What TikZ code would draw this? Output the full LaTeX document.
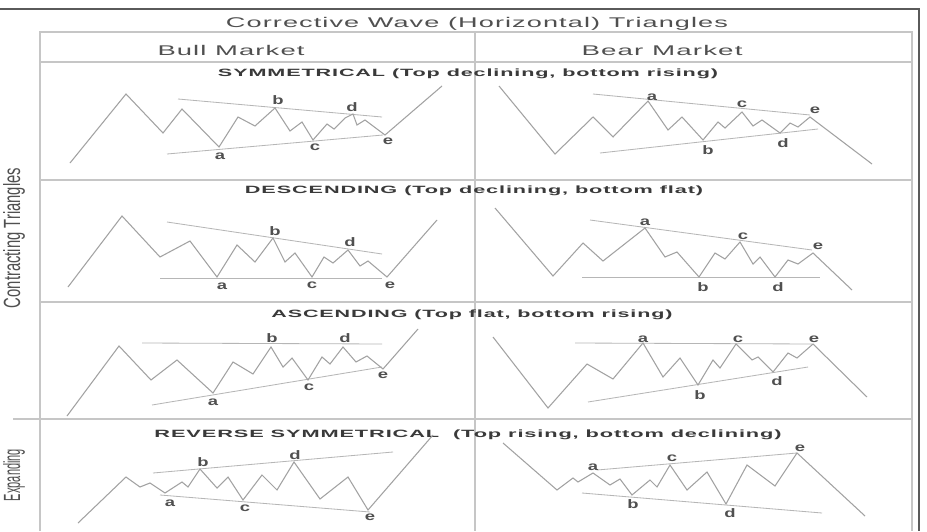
\documentclass[tikz,border=0pt]{standalone}
\usepackage{fontspec}
\setmainfont{Liberation Sans}
\newfontfamily\spacedfont[LetterSpace=4]{Liberation Sans}
\usepackage{graphicx}
\usepackage{xcolor}
\definecolor{frameGray}{HTML}{5A5A5A}
\definecolor{gridGray}{HTML}{C6C6C6}
\definecolor{waveGray}{HTML}{A2A2A2}
\definecolor{trendGray}{HTML}{B6B6B6}
\definecolor{textGray}{HTML}{505050}
\definecolor{textDark}{HTML}{3A3A3A}
\newlength\pxl
\setlength\pxl{0.03cm}
\newcommand{\fitw}[2]{\resizebox{#1\pxl}{\height}{#2}}

\begin{document}
\begin{tikzpicture}[x=0.03cm, y=-0.03cm,
  frame/.style={draw=frameGray, line width=1.3pt},
  grid/.style={draw=gridGray, line width=1.1pt},
  wave/.style={draw=waveGray, line width=0.9pt},
  trend/.style={draw=trendGray, line width=0.7pt},
  ttl/.style={font=\spacedfont\fontsize{12}{14}\selectfont, text=textGray, inner sep=0pt, anchor=base},
  hdr/.style={font=\spacedfont\bfseries\fontsize{9}{11}\selectfont, text=textDark, inner sep=0pt, anchor=base},
  side/.style={font=\fontsize{20}{22}\selectfont, text=textGray, inner sep=0pt, rotate=90},
  lbl/.style={font=\bfseries\fontsize{10.5}{12}\selectfont, text=textGray, inner sep=0pt}]
\fill[white] (0,0) rectangle (927,531);
\useasboundingbox (0,0) rectangle (927,531);
\draw[frame] (0,9) -- (919,9) -- (919,531);
\draw[grid] (40,531) -- (40,32) -- (912,32) -- (912,531);
\draw[grid] (40,62) -- (912,62);
\draw[grid] (475,32) -- (475,531);
\draw[grid] (40,180) -- (912,180);
\draw[grid] (40,302) -- (912,302);
\draw[grid] (13,419) -- (912,419);
\node[ttl] (title) at (477,27) {\fitw{502}{Corrective Wave (Horizontal) Triangles}};
\node[ttl] (bull) at (231,55) {\fitw{147}{Bull Market}};
\node[ttl] (bear) at (662,55) {\fitw{161}{Bear Market}};
\node[hdr] (symHdr) at (468,76) {\fitw{500}{SYMMETRICAL (Top declining, bottom rising)}};
\node[hdr] (descHdr) at (474,193) {\fitw{458}{DESCENDING (Top declining, bottom flat)}};
\node[hdr] (ascHdr) at (472,317) {\fitw{401}{ASCENDING (Top flat, bottom rising)}};
\node[hdr] (revHdr) at (468,437) {\fitw{627}{REVERSE SYMMETRICAL\ \ (Top rising, bottom declining)}};
\node[side] (contr) at (14,238) {\fitw{140}{Contracting Triangles}};
\node[side] (expand) at (14,475) {\fitw{52}{Expanding}};

\draw[trend] (178,99) -- (382,117);
\draw[trend] (167,154) -- (383,135);
\draw[wave] (70,163) -- (126,94) -- (163,133) -- (182,109) -- (219,147) -- (238,117) -- (255,126) -- (275,108) -- (290,131) -- (302,122) -- (313,140) -- (327,124) -- (334,129) -- (345,118) -- (353,114) -- (357,125) -- (365,120) -- (385,135) -- (442,86);
\foreach \l/\x/\y in {a/220/156,b/278/100,c/315/147,d/352/107,e/388/141}
  \node[lbl] (symBull\l) at (\x,\y) {\scalebox{1.5}[1]{\l}};

\draw[trend] (593,94) -- (810,115);
\draw[trend] (600,153) -- (818,129);
\draw[wave] (499,86) -- (555,154) -- (593,117) -- (613,137) -- (648,101) -- (668,130) -- (682,117) -- (703,140) -- (718,122) -- (725,128) -- (742,112) -- (753,126) -- (762,120) -- (780,133) -- (790,123) -- (798,127) -- (810,117) -- (872,164);
\foreach \l/\x/\y in {a/652/97,b/708/150,c/742/104,d/783/143,e/815/110}
  \node[lbl] (symBear\l) at (\x,\y) {\scalebox{1.5}[1]{\l}};

\draw[trend] (167,222) -- (382,254);
\draw[trend] (160,278) -- (382,278);
\draw[wave] (68,287) -- (122,216) -- (160,257) -- (190,241) -- (217,277) -- (237,245) -- (255,262) -- (273,238) -- (285,262) -- (295,253) -- (312,277) -- (324,257) -- (333,263) -- (348,250) -- (360,266) -- (368,261) -- (387,277) -- (437,220);
\foreach \l/\x/\y in {a/222/286,b/275/231,c/312/285,d/350/242,e/390/285}
  \node[lbl] (descBull\l) at (\x,\y) {\scalebox{1.5}[1]{\l}};

\draw[trend] (590,220) -- (812,250);
\draw[trend] (582,277) -- (820,277);
\draw[wave] (495,208) -- (553,276) -- (583,243) -- (603,261) -- (645,228) -- (665,257) -- (677,252) -- (699,277) -- (715,253) -- (725,259) -- (740,242) -- (753,264) -- (760,257) -- (775,277) -- (788,260) -- (798,264) -- (813,253) -- (852,290);
\foreach \l/\x/\y in {a/645/222,b/703/287,c/743/236,d/778/287,e/818/246}
  \node[lbl] (descBear\l) at (\x,\y) {\scalebox{1.5}[1]{\l}};

\draw[trend] (142,343) -- (382,344);
\draw[trend] (152,405) -- (382,367);
\draw[wave] (67,416) -- (119,346) -- (151,380) -- (177,360) -- (213,393) -- (233,362) -- (253,374) -- (271,347) -- (283,367) -- (292,358) -- (308,380) -- (322,357) -- (330,364) -- (343,347) -- (356,362) -- (367,356) -- (383,369) -- (418,329);
\foreach \l/\x/\y in {a/213/402,b/272/338,c/309/387,d/345/338,e/383/375}
  \node[lbl] (ascBull\l) at (\x,\y) {\scalebox{1.5}[1]{\l}};

\draw[trend] (575,343) -- (812,344);
\draw[trend] (588,402) -- (808,367);
\draw[wave] (493,337) -- (548,408) -- (587,364) -- (613,379) -- (643,343) -- (663,377) -- (680,358) -- (698,385) -- (713,360) -- (720,368) -- (736,344) -- (752,360) -- (758,357) -- (773,372) -- (788,353) -- (797,358) -- (813,344) -- (867,397);
\foreach \l/\x/\y in {a/643/339,b/700/395,c/738/339,d/777/381,e/814/339}
  \node[lbl] (ascBear\l) at (\x,\y) {\scalebox{1.5}[1]{\l}};

\draw[trend] (153,473) -- (393,452);
\draw[trend] (160,495) -- (370,512);
\draw[wave] (78,523) -- (126,477) -- (140,487) -- (150,483) -- (165,493) -- (182,482) -- (188,487) -- (200,469) -- (217,488) -- (228,477) -- (243,500) -- (262,475) -- (277,490) -- (294,462) -- (320,499) -- (348,477) -- (368,510) -- (433,435);
\foreach \l/\x/\y in {a/170/503,b/203/462,c/245/508,d/295/455,e/370/517}
  \node[lbl] (expBull\l) at (\x,\y) {\scalebox{1.5}[1]{\l}};

\draw[trend] (597,470) -- (797,453);
\draw[trend] (582,493) -- (822,513);
\draw[wave] (503,443) -- (557,490) -- (573,478) -- (578,482) -- (593,473) -- (610,485) -- (620,479) -- (632,495) -- (650,480) -- (657,487) -- (670,465) -- (687,490) -- (707,472) -- (726,504) -- (747,465) -- (775,486) -- (797,453) -- (865,516);
\foreach \l/\x/\y in {a/593/467,b/633/504,c/672/458,d/730/513,e/800/448}
  \node[lbl] (expBear\l) at (\x,\y) {\scalebox{1.5}[1]{\l}};
\end{tikzpicture}
\end{document}
